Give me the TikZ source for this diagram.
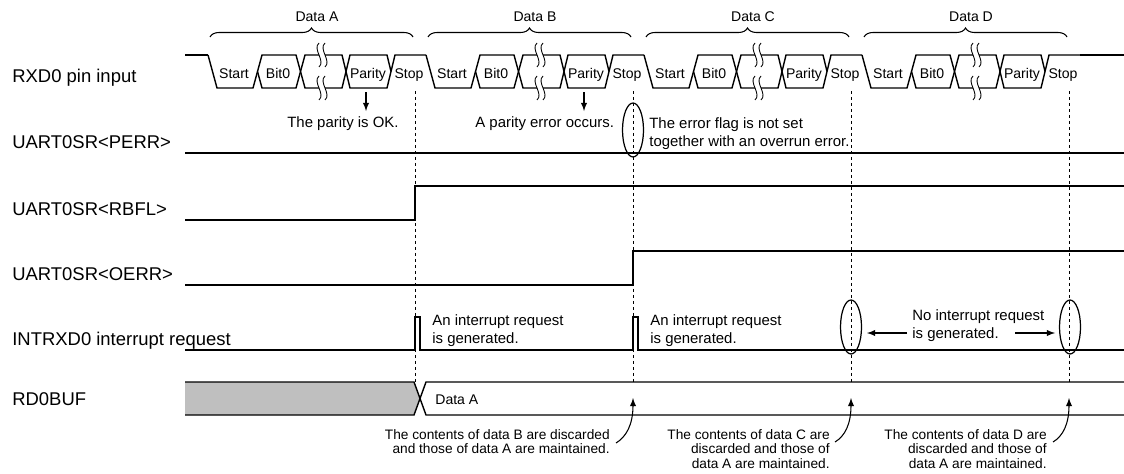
\documentclass[tikz,border=0pt]{standalone}
\usepackage{fontspec}
\setmainfont{Liberation Sans}
\usetikzlibrary{shapes.geometric,arrows,decorations.pathreplacing}

\begin{document}
\begin{tikzpicture}[
  x=0.02cm, y=-0.02cm,
  bus/.style={line width=0.8pt},
  sig/.style={line width=1pt},
  guide/.style={line width=0.5pt, dash pattern=on 0.07cm off 0.05cm},
  brk/.style={line width=0.5pt},
  lbl/.style={anchor=base west, inner sep=0pt, font=\fontsize{10.5}{12}\selectfont},
  seg/.style={anchor=base, inner sep=0pt, font=\fontsize{8}{9.6}\selectfont},
  note/.style={anchor=base west, inner sep=0pt, align=left, font=\fontsize{8.5}{10.4}\selectfont},
  foot/.style={anchor=base east, inner sep=0pt, align=right, font=\fontsize{7.8}{8.25}\selectfont},
  oval/.style={ellipse, draw, line width=0.7pt, inner sep=0pt, minimum width=0.42cm, minimum height=1.08cm},
  arr/.style={-latex, line width=0.6pt}
]
\useasboundingbox (0,0) rectangle (1124,473);

% Signal names
\node[lbl] (rxd)  at (12,82.7) {RXD0 pin input};
\node[lbl] (perr) at (12,148) {UART0SR<PERR>};
\node[lbl] (rbfl) at (12,215) {UART0SR<RBFL>};
\node[lbl] (oerr) at (12,280) {UART0SR<OERR>};
\node[lbl] (intr) at (12,345.5) {INTRXD0 interrupt request};
\node[lbl] (rbuf) at (12,405) {RD0BUF};

% RXD0 pin input frames
\draw[bus] (185,55) -- (208,55);
\foreach \f/\nm in {208/A,426/B,644/C,862/D}{
  \draw[bus] (\f,55) -- (\f+9,88) -- (\f+45,88) -- (\f+54,55) -- (\f+88,55) -- (\f+97,88) -- (\f+111,88);
  \draw[bus] (\f+49.5,71.5) -- (\f+54,88) -- (\f+88,88) -- (\f+97,55) -- (\f+111,55);
  \draw[bus] (\f+117,55) -- (\f+134,55) -- (\f+142,88) -- (\f+179,88) -- (\f+187,55) -- (\f+218,55);
  \draw[bus] (\f+117,88) -- (\f+134,88) -- (\f+142,55) -- (\f+179,55) -- (\f+183,71.5);
  \foreach \bx in {111,117}{
    \draw[brk] (\f+\bx,43) .. controls (\f+\bx-7,49) and (\f+\bx+7,61) .. (\f+\bx,67);
    \draw[brk] (\f+\bx,76) .. controls (\f+\bx-7,82) and (\f+\bx+7,94) .. (\f+\bx,100);
  }
  \node[seg] (start\nm) at (\f+26,78.3) {Start};
  \node[seg] (bit\nm) at (\f+70,78.3) {Bit0};
  \node[seg] (par\nm) at (\f+160,78.3) {Parity};
  \node[seg] (stop\nm) at (\f+201,78.3) {Stop};
  \draw[decorate, decoration={brace, amplitude=0.18cm}, line width=0.6pt] (\f+2,37) -- (\f+205,37);
  \node[seg] (data\nm) at (\f+109,21.5) {Data \nm};
}
\draw[bus] (1080,55) -- (1124,55);

% Flags
\draw[sig] (185,153) -- (1124,153);
\draw[sig] (185,220) -- (415,220) -- (415,186) -- (1124,186);
\draw[sig] (185,285) -- (633,285) -- (633,251) -- (1124,251);
\draw[sig] (185,350) -- (415,350) -- (415,317) -- (420,317) -- (420,350) -- (633,350)
  -- (633,317) -- (638,317) -- (638,350) -- (1124,350);

% RD0BUF
\fill[gray!50] (185,382) -- (414,382) -- (420,398.5) -- (414,415) -- (185,415) -- cycle;
\draw[bus] (185,382) -- (414,382) -- (426,415) -- (1124,415);
\draw[bus] (185,415) -- (414,415) -- (426,382) -- (1124,382);
\node[seg, anchor=base west] (bufA) at (435,404) {Data A};

% Stop bit positions
\foreach \x in {415,633,851,1069}
  \draw[guide] (\x,91) -- (\x,382);

% Parity notes
\coordinate (okTop) at (366,92);
\coordinate (errTop) at (584,92);
\draw[arr] (okTop) -- ++(0,19);
\draw[arr] (errTop) -- ++(0,19);
\node[note] (okTxt) at (287,127) {The parity is OK.};
\node[note] (errTxt) at (475,127.5) {A parity error occurs.};
\node[oval] (ovB) at (633,130) {};
\node[note] (flagTxt) at (649,146.5) {The error flag is not set\\together with an overrun error.};

% Interrupt notes
\node[note] (intA) at (432,343.3) {An interrupt request\\is generated.};
\node[note] (intB) at (650,343.3) {An interrupt request\\is generated.};
\node[oval] (ovC) at (851,327) {};
\node[oval] (ovD) at (1070,327) {};
\node[note] (noInt) at (912,338.3) {No interrupt request\\is generated.};
\coordinate (noL) at (907,333);
\coordinate (noR) at (1015,333);
\draw[arr] (noL) -- (867,333);
\draw[arr] (noR) -- (1055,333);

% Buffer notes
\node[foot] (footB) at (610,453.5) {The contents of data B are discarded\\and those of data A are maintained.};
\node[foot] (footC) at (830,468) {The contents of data C are\\discarded and those of\\data A are maintained.};
\node[foot] (footD) at (1047,468) {The contents of data D are\\discarded and those of\\data A are maintained.};
\coordinate (tipB) at (633,398);
\coordinate (tipC) at (851,398);
\coordinate (tipD) at (1069,398);
\draw[arr] (616,443) .. controls (626,437) and (633,425) .. (tipB);
\draw[arr] (835,442) .. controls (845,436) and (851,424) .. (tipC);
\draw[arr] (1053,442) .. controls (1063,436) and (1069,424) .. (tipD);

\end{tikzpicture}
\end{document}
